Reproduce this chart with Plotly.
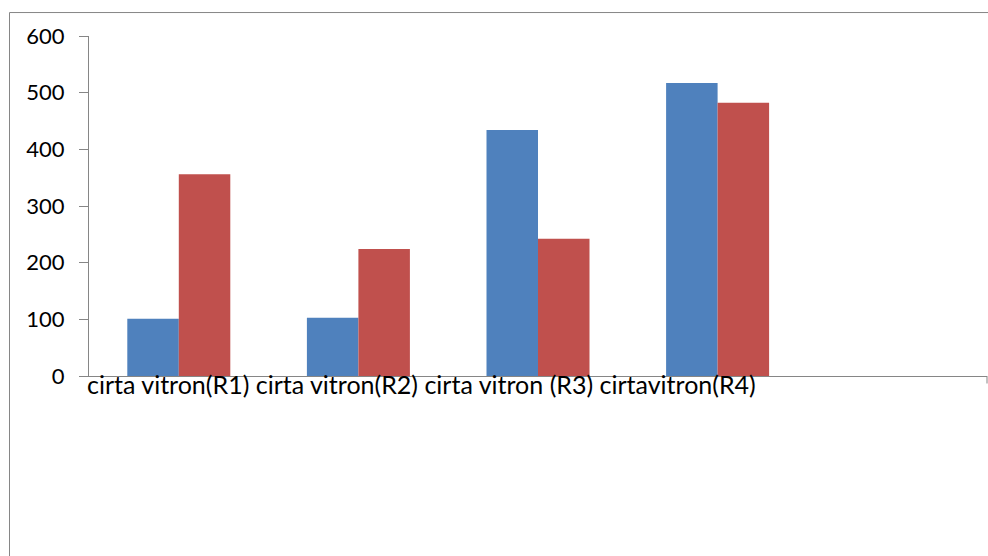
import plotly.graph_objects as go

categories = ["cirta vitron(R1)", "cirta vitron(R2)", "cirta vitron (R3)", "cirtavitron(R4)"]
series_blue = [101, 103, 434, 517]
series_red = [356, 224, 242, 482]
y_ticks = [0, 100, 200, 300, 400, 500, 600]

BLUE = "#4F81BD"
RED = "#C0504D"
AXIS = "#868686"
FONT = "Lato"

fig = go.Figure()
fig.add_trace(go.Bar(x=categories, y=series_blue, marker=dict(color=BLUE, line=dict(width=0)), showlegend=False))
fig.add_trace(go.Bar(x=categories, y=series_red, marker=dict(color=RED, line=dict(width=0)), showlegend=False))

# plot area geometry (pixels) used to place the frame and labels
L, R, T, B = 89, 1, 36, 179.5
W, H = 988, 556
pw = W - L - R
ph = H - T - B

def px_x(p):
    return (p - L) / pw

def px_y(p):
    return (H - B - p) / ph

fig.update_layout(
    width=W, height=H,
    margin=dict(l=L, r=R, t=T, b=B, pad=0),
    paper_bgcolor="white", plot_bgcolor="white",
    barmode="group", bargap=0.4265, bargroupgap=0,
    font=dict(family=FONT, size=22, color="black"),
    xaxis=dict(
        type="category", categoryorder="array", categoryarray=categories,
        range=[-0.5, 4.5], showticklabels=False, ticks="",
        showline=True, linecolor=AXIS, linewidth=1, showgrid=False, zeroline=False,
        fixedrange=True,
    ),
    yaxis=dict(
        range=[0, 600], tickvals=y_ticks, ticks="outside", ticklen=9, tickcolor=AXIS,
        showline=True, linecolor=AXIS, linewidth=1, showgrid=False, zeroline=False,
        ticklabelstandoff=10, tickfont=dict(family=FONT, size=22, color="black"),
        fixedrange=True,
    ),
    shapes=[
        # outer chart frame
        dict(type="rect", xref="paper", yref="paper",
             x0=px_x(9.5), x1=px_x(995), y0=px_y(565), y1=px_y(12.5),
             line=dict(color=AXIS, width=1), fillcolor="rgba(0,0,0,0)", layer="below"),
        # end tick of the category axis
        dict(type="line", xref="paper", yref="paper",
             x0=px_x(987), x1=px_x(987), y0=0, y1=px_y(384),
             line=dict(color=AXIS, width=1)),
    ],
    annotations=[
        dict(text=" ".join(categories), xref="paper", yref="paper",
             x=px_x(85), y=px_y(385), xanchor="left", yanchor="middle",
             showarrow=False, font=dict(family=FONT, size=25, color="black")),
    ],
)

fig.write_html("out.html")
